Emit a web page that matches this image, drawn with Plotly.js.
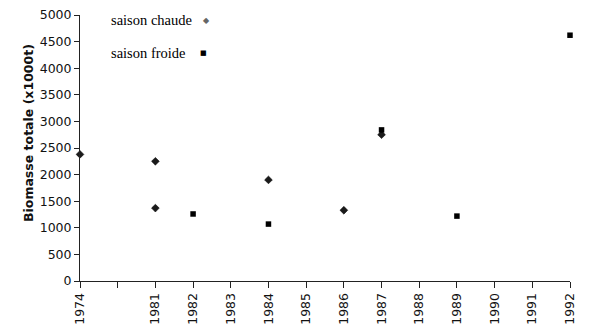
<!DOCTYPE html>
<html>
<head>
<meta charset="utf-8">
<script src="https://cdn.plot.ly/plotly-3.0.1.min.js"></script>
<style>html,body{margin:0;padding:0;background:#fff;}#chart{width:600px;height:334px;}</style>
</head>
<body>
<div id="chart"></div>
<script>
// Category ticks along the x axis (blank slot between 1974 and 1981)
const categories = ["1974", " ", "1981", "1982", "1983", "1984", "1985", "1986", "1987", "1988", "1989", "1990", "1991", "1992"];

// Saison chaude
const chaudeYears = ["1974", "1981", "1981", "1984", "1986", "1987"];
const chaudeValues = [2380, 2250, 1370, 1900, 1330, 2750];

// Saison froide
const froideYears = ["1982", "1984", "1987", "1989", "1992"];
const froideValues = [1260, 1070, 2840, 1220, 4620];

const yTicks = [0, 500, 1000, 1500, 2000, 2500, 3000, 3500, 4000, 4500, 5000];

const traces = [
  {
    x: chaudeYears, y: chaudeValues, type: "scatter", mode: "markers", name: "saison chaude",
    cliponaxis: false,
    marker: {symbol: "diamond", size: 6, color: "#1a1a1a", line: {color: "#000", width: 0.5}}
  },
  {
    x: froideYears, y: froideValues, type: "scatter", mode: "markers", name: "saison froide",
    cliponaxis: false,
    marker: {symbol: "square", size: 5.5, color: "#000", line: {color: "#000", width: 0}}
  }
];

const tickFont = {family: "'DejaVu Sans', sans-serif", size: 12.5, color: "#111"};

const px = v => (v - 80) / 490;
const py = v => 1 - (v - 15) / 266;

const layout = {
  width: 600, height: 334,
  margin: {l: 80, r: 30, t: 15, b: 53},
  paper_bgcolor: "#fff", plot_bgcolor: "#fff",
  showlegend: false,
  font: tickFont,
  xaxis: {
    type: "category", categoryorder: "array", categoryarray: categories,
    tickmode: "array", tickvals: categories, ticktext: categories,
    range: [0, categories.length - 1],
    showgrid: false, zeroline: false,
    showline: true, linecolor: "#222", linewidth: 1,
    ticks: "outside", ticklen: 6, tickcolor: "#222",
    tickangle: -90, tickfont: tickFont
  },
  yaxis: {
    range: [0, 5000], tickvals: yTicks,
    showgrid: false, zeroline: false,
    showline: true, linecolor: "#222", linewidth: 1,
    ticks: "outside", ticklen: 5, tickcolor: "#222",
    tickfont: tickFont
  },
  annotations: [
    {xref: "paper", yref: "paper", x: px(29), y: py(133), xanchor: "center", yanchor: "middle",
     text: "<b>Biomasse totale (x1000t)</b>", textangle: -90, showarrow: false,
     font: {size: 12.5, family: "'DejaVu Sans', sans-serif", color: "#111"}},
    {xref: "paper", yref: "paper", x: px(109), y: py(20), xanchor: "left", yanchor: "middle",
     text: "saison chaude", showarrow: false,
     font: {size: 14.5, family: "'Liberation Serif', serif", color: "#000"}},
    {xref: "paper", yref: "paper", x: px(109), y: py(53), xanchor: "left", yanchor: "middle",
     text: "saison froide", showarrow: false,
     font: {size: 14.5, family: "'Liberation Serif', serif", color: "#000"}},
    {xref: "paper", yref: "paper", x: px(206), y: py(21), xanchor: "center", yanchor: "middle",
     text: "◆", showarrow: false, font: {size: 8, color: "#666", family: "'DejaVu Sans'"}},
    {xref: "paper", yref: "paper", x: px(203), y: py(53), xanchor: "center", yanchor: "middle",
     text: "■", showarrow: false, font: {size: 7, color: "#000", family: "'DejaVu Sans'"}}
  ]
};

Plotly.newPlot("chart", traces, layout, {displayModeBar: false, staticPlot: true});
</script>
</body>
</html>
